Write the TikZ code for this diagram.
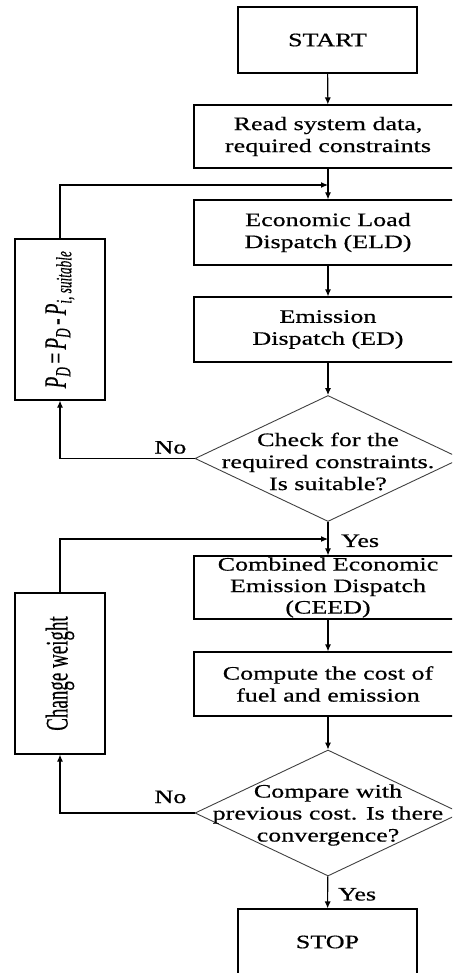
\documentclass[tikz,border=0pt]{standalone}
\usepackage{fontspec}
\setmainfont{Liberation Serif}[FakeStretch=1.37, FakeBold=0.6]
\newfontfamily\rotfont{Liberation Serif}[FakeBold=0.4]
\usepackage{graphicx}
\usetikzlibrary{arrows.meta}
\usetikzlibrary{shapes.geometric}

\begin{document}
\begin{tikzpicture}[x=1pt, y=-1pt,
  every node/.style={font=\fontsize{19}{22}\selectfont},
  stepbox/.style={draw, line width=1.1pt, minimum width=268pt, minimum height=64pt, inner sep=0pt, align=center},
  endbox/.style={draw, line width=1.1pt, minimum width=179pt, minimum height=66pt, inner sep=0pt},
  sidebox/.style={draw, line width=1.1pt, minimum width=90pt, minimum height=161pt, inner sep=0pt},
  test/.style={draw=black!75, line width=0.9pt, diamond, minimum width=266pt, minimum height=126pt, inner sep=0pt},
  flow/.style={line width=1.1pt, -{Latex[length=7pt, width=6pt]}}]%
  \def\cx{328}%
  \def\sx{60}%
  \useasboundingbox (0,0) rectangle (452,973);
  \clip (0,0) rectangle (452,973);

  %main column:
  \node[endbox] (start) at (327.5,40) {START};
  \node[stepbox, minimum height=63pt] (read) at (\cx,136.5) {Read system data,\\required constraints};
  \node[stepbox, minimum height=65pt] (eld) at (\cx,232.5) {Economic Load\\Dispatch (ELD)};
  \node[stepbox, minimum height=65pt] (ed) at (\cx,329.5) {Emission\\Dispatch (ED)};
  \node[test, label={[align=center, yshift=-3pt]center:Check for the\\required constraints.\\Is suitable?}] (chk) at (\cx,458.5) {};
  \node[stepbox, minimum height=63pt, font=\fontsize{19}{21.5}\selectfont] (ceed) at (\cx,587.5) {Combined Economic\\Emission Dispatch\\(CEED)};
  \node[stepbox] (cost) at (\cx,684) {Compute the cost of\\fuel and emission};
  \node[test, label={[align=center, yshift=-2pt]center:Compare with\\previous cost. Is there\\convergence?}] (conv) at (\cx,813) {};
  \node[endbox] (stop) at (327.5,942) {STOP};

  %side boxes:
  \node[sidebox] (upd) at (\sx,319.5) {\scalebox{1.65}[1]{\rotatebox{90}{\rotfont\itshape P\textsubscript{D}\,{\upshape=}\,P\textsubscript{D}\,{\upshape-}\,P\textsubscript{i, suitable}}}};
  \node[sidebox] (wgt) at (\sx,673.5) {\scalebox{1.65}[1]{\rotatebox{90}{\rotfont Change weight}}};

  %junctions:
  \coordinate (j1) at (\cx,185);
  \coordinate (j2) at (\cx,539);

  %arrows
  \draw[flow] (start) -- (read);
  \draw[flow] (read) -- (eld);
  \draw[flow] (eld) -- (ed);
  \draw[flow] (ed) -- (chk);
  \draw[flow] (chk) -- (ceed);
  \draw[flow] (ceed) -- (cost);
  \draw[flow] (cost) -- (conv);
  \draw[flow] (conv) -- (stop);
  \draw[flow] (upd.north) |- (j1);
  \draw[flow] (chk.west) -| (upd.south);
  \draw[flow] (wgt.north) |- (j2);
  \draw[flow] (conv.west) -| (wgt.south);

  %labels
  \node[anchor=base east, inner sep=0pt] (no1) at ([shift={(-8,-5)}]chk.west) {No};
  \node[anchor=base east, inner sep=0pt] (no2) at ([shift={(-8,-10)}]conv.west) {No};
  \node[anchor=base west, inner sep=0pt] (yes1) at ([shift={(13,25)}]chk.south) {Yes};
  \node[anchor=base west, inner sep=0pt] (yes2) at ([shift={(10,24)}]conv.south) {Yes};
\end{tikzpicture}
\end{document}
